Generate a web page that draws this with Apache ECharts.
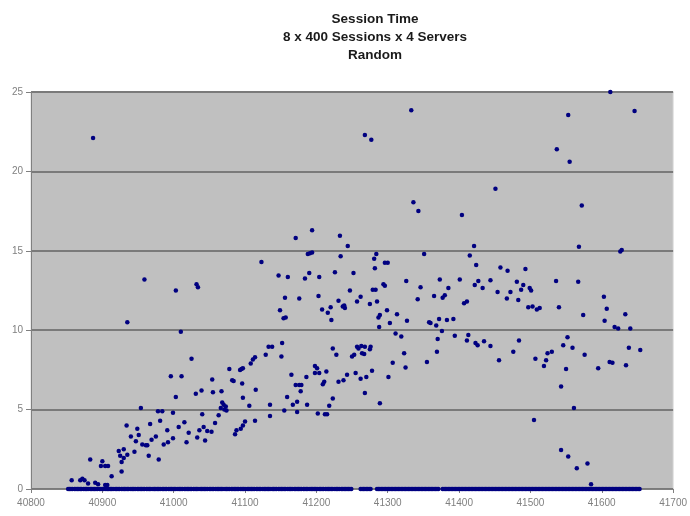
<!DOCTYPE html>
<html><head><meta charset="utf-8">
<script src="https://cdn.jsdelivr.net/npm/echarts@6/dist/echarts.min.js"></script>
<style>html,body{margin:0;padding:0;background:#fff}#c{width:690px;height:516px}</style>
</head><body><div id="c"></div>
<script>
const titleLines = ["Session Time", "8 x 400 Sessions x 4 Servers", "Random"];
const xTicks = {min: 40800, max: 41700, interval: 100};
const yTicks = {min: 0, max: 25, interval: 5};

// Sessions with non-zero time [time, session time]
const sessionPoints = [
[40887,22.1],[40959,13.2],[41003,12.5],[41032,12.9],[41034,12.7],[40935,10.5],[41010,9.9],[41025,8.2],[40996,7.1],[41011,7.1],[41054,6.9],[41003,5.8],[41031,6.0],[41039,6.2],[41055,6.1],[40954,5.1],[40978,4.9],[40984,4.9],[40999,4.8],[41040,4.7],[40981,4.3],[40967,4.1],[40934,4.0],[40949,3.8],[40940,3.3],[40951,3.4],[40991,3.7],[41007,3.9],[41015,4.2],[41021,3.55],[41036,3.7],[41042,3.9],[41047,3.65],[41053,3.6],[41033,3.25],[41044,3.05],[40969,3.1],[40975,3.3],[40986,2.8],[40992,2.95],[40999,3.2],[41018,2.95],[40947,3.0],[40956,2.8],[40961,2.75],[40963,2.75],[40945,2.35],[40965,2.1],[40979,1.85],[40930,2.5],[40935,2.15],[40923,2.4],[40925,2.1],[40930,1.95],[40927,1.7],[40883,1.85],[40898,1.45],[40900,1.75],[40904,1.45],[40908,1.45],[40913,0.8],[40927,1.1],[40857,0.55],[40869,0.55],[40872,0.65],[40875,0.55],[40880,0.35],[40890,0.4],[40894,0.3],[40904,0.25],[40907,0.25],
[41058,4.15],[41171,15.8],[41194,16.3],[41233,15.95],[41244,15.3],[41123,14.3],[41188,14.8],[41191,14.85],[41194,14.9],[41234,14.65],[41147,13.45],[41160,13.35],[41184,13.25],[41190,13.6],[41204,13.35],[41226,13.65],[41252,13.6],[41156,12.05],[41176,12.0],[41203,12.15],[41247,12.5],[41149,11.25],[41154,10.75],[41157,10.8],[41208,11.3],[41216,11.1],[41220,11.45],[41221,10.65],[41231,11.85],[41237,11.5],[41240,11.4],[41239,11.55],[41257,11.8],[41262,12.1],[41133,8.95],[41138,8.95],[41152,9.2],[41129,8.45],[41151,8.35],[41114,8.3],[41111,8.15],[41108,7.9],[41097,7.6],[41095,7.55],[41093,7.5],[41078,7.55],[41082,6.85],[41084,6.8],[41096,6.65],[41067,6.15],[41115,6.25],[41097,5.75],[41106,5.25],[41068,5.45],[41070,5.3],[41073,5.2],[41066,5.1],[41071,5.0],[41074,4.95],[41063,4.65],[41100,4.25],[41097,4.0],[41094,3.8],[41088,3.7],[41086,3.45],[41114,4.3],[41135,5.3],[41135,4.6],[41155,4.95],[41165,7.2],[41159,5.8],[41171,6.55],[41176,6.55],[41179,6.55],[41178,6.15],[41186,7.05],[41167,5.3],[41173,5.5],[41173,4.85],[41187,5.3],[41198,7.75],[41201,7.6],[41198,7.3],[41204,7.3],[41214,7.4],[41209,6.6],[41211,6.75],[41202,4.75],[41212,4.7],[41215,4.7],[41218,5.25],[41223,5.7],[41223,8.85],[41228,8.45],[41231,6.75],[41238,6.85],[41243,7.2],[41250,8.35],[41253,8.45],[41257,8.95],[41259,8.85],[41263,9.0],[41264,8.55],[41267,8.5],[41255,7.3],[41262,6.95],
[41268,22.3],[41277,22.0],[41333,23.85],[41336,18.05],[41343,17.5],[41451,18.9],[41404,17.25],[41284,14.8],[41281,14.5],[41282,13.9],[41296,14.25],[41300,14.25],[41351,14.8],[41421,15.3],[41415,14.7],[41424,14.1],[41458,13.95],[41468,13.75],[41279,12.55],[41283,12.55],[41294,12.9],[41296,12.8],[41326,13.1],[41346,12.7],[41373,13.2],[41385,12.65],[41401,13.2],[41422,12.85],[41427,13.1],[41433,12.65],[41444,13.15],[41454,12.4],[41467,12.0],[41472,12.4],[41481,13.05],[41483,11.9],[41487,12.55],[41490,12.85],[41275,11.65],[41285,11.8],[41342,11.95],[41365,12.15],[41377,12.05],[41380,12.2],[41407,11.7],[41411,11.8],[41287,10.8],[41289,10.95],[41288,10.2],[41299,11.25],[41303,10.45],[41313,11.0],[41327,10.6],[41358,10.5],[41360,10.45],[41368,10.3],[41372,10.7],[41376,9.95],[41383,10.65],[41392,10.7],[41311,9.8],[41319,9.6],[41268,8.95],[41276,8.95],[41275,8.8],[41307,7.95],[41323,8.55],[41325,7.65],[41301,7.05],[41278,7.45],[41270,7.05],[41268,6.05],[41289,5.4],[41355,8.0],[41369,8.65],[41370,9.45],[41394,9.65],[41411,9.35],[41413,9.7],[41423,9.2],[41426,9.05],[41435,9.3],[41444,9.0],[41456,8.1],[41476,8.65],[41484,9.35],
[41612,25.0],[41553,23.55],[41646,23.8],[41537,21.4],[41555,20.6],[41572,17.85],[41568,15.25],[41626,14.95],[41628,15.05],[41493,13.85],[41536,13.1],[41567,13.05],[41499,12.65],[41501,12.5],[41497,11.45],[41503,11.5],[41509,11.3],[41513,11.4],[41540,11.45],[41603,12.1],[41607,11.35],[41574,10.95],[41604,10.6],[41633,11.0],[41618,10.2],[41623,10.1],[41640,10.1],[41552,9.55],[41546,9.05],[41559,8.9],[41507,8.2],[41519,7.75],[41522,8.1],[41524,8.55],[41530,8.65],[41550,7.55],[41576,8.45],[41595,7.6],[41611,8.0],[41615,7.95],[41634,7.8],[41638,8.9],[41654,8.75],[41543,6.45],[41561,5.1],[41505,4.35],[41543,2.45],[41553,2.05],[41565,1.3],[41580,1.6],[41585,0.3]
];

// Sessions with zero time (x positions along the baseline), read in two passes
const zeroTimesA = [40852,40856,40861,40865,40869,40874,40878,40883,40887,40891,40896,40900,40905,40909,40913,40918,40922,40927,40931,40935,40940,40944,40949,40953,40957,40962,40966,40971,40975,40979,40984,40988,40993,40997,41001,41006,41010,41015,41019,41023,41028,41032,41037,41041,41045,41050,41054,41059,41063,41067,41072,41076,41081,41085,41089,41094,41098,41103,41107,41111,41116,41120,41125,41129,41133,41138,41142,41147,41151,41155,41160,41164,41169,41173,41177,41182,41186,41191,41195,41199,41204,41208,41213,41217,41221,41226,41230,41235,41239,41243,41247,41262,41266,41268,41272,41276,41285,41289,41293,41297,41301,41305,41309,41313,41317,41321,41325,41329,41333,41337,41341,41345,41349,41353,41357,41361,41365,41369,41377,41381,41385,41389,41393,41397,41401,41405,41409,41413,41417,41421,41425,41429,41433,41437,41441,41445,41449,41453,41457,41461,41465,41469,41473,41477,41481,41485,41489,41493,41497,41501,41505,41509,41513,41517,41521,41525,41529,41533,41537,41541,41545,41549,41553,41557,41561,41565,41569,41573,41577,41581,41585,41589,41593,41597,41601,41605,41609,41613,41617,41621,41625,41629,41633,41637,41641,41645,41649,41653];
const zeroTimesB = [40854,40858,40863,40867,40871,40876,40880,40885,40889,40893,40898,40902,40907,40911,40915,40920,40924,40929,40933,40937,40942,40946,40951,40955,40959,40964,40968,40973,40977,40981,40986,40990,40995,40999,41003,41008,41012,41017,41021,41025,41030,41034,41039,41043,41047,41052,41056,41061,41065,41069,41074,41078,41083,41087,41091,41096,41100,41105,41109,41113,41118,41122,41127,41131,41135,41140,41144,41149,41153,41157,41162,41166,41171,41175,41179,41184,41188,41193,41197,41201,41206,41210,41215,41219,41223,41228,41232,41237,41241,41245,41249,41264,41270,41274,41287,41291,41295,41299,41303,41307,41311,41315,41319,41323,41327,41331,41335,41339,41343,41347,41351,41355,41359,41363,41367,41371,41379,41383,41387,41391,41395,41399,41403,41407,41411,41415,41419,41423,41427,41431,41435,41439,41443,41447,41451,41455,41459,41463,41467,41471,41475,41479,41483,41487,41491,41495,41499,41503,41507,41511,41515,41519,41523,41527,41531,41535,41539,41543,41547,41551,41555,41559,41563,41567,41571,41575,41579,41583,41587,41591,41595,41599,41603,41607,41611,41615,41619,41623,41627,41631,41635,41639,41643,41647,41651];

const allData = sessionPoints
  .concat(zeroTimesA.map(x => [x, 0]))
  .concat(zeroTimesB.map(x => [x, 0]));

const chart = echarts.init(document.getElementById('c'), null, {renderer: 'canvas'});
const axisFont = {color: '#808080', fontSize: 10, fontFamily: 'Liberation Sans, Arial, sans-serif'};
chart.setOption({
  animation: false,
  backgroundColor: '#ffffff',
  title: {
    text: titleLines.join('\n'),
    left: 370, top: 5, textAlign: 'center',
    textStyle: {fontSize: 13.5, fontWeight: 'bold', color: '#1a1a1a', lineHeight: 18, fontFamily: 'Liberation Sans, Arial, sans-serif'}
  },
  grid: {left: 31, right: 16, top: 92, bottom: 27, show: true, backgroundColor: '#c0c0c0', borderColor: '#d8d8d8', borderWidth: 1},
  xAxis: {
    type: 'value', min: xTicks.min, max: xTicks.max, interval: xTicks.interval,
    axisLine: {show: true, onZero: false, lineStyle: {color: '#808080', width: 1}},
    axisTick: {show: true, length: 4, lineStyle: {color: '#808080'}},
    axisLabel: Object.assign({margin: 9, formatter: v => String(v)}, axisFont),
    splitLine: {show: false}
  },
  yAxis: {
    type: 'value', min: yTicks.min, max: yTicks.max, interval: yTicks.interval,
    axisLine: {show: true, lineStyle: {color: '#808080', width: 1}},
    axisTick: {show: true, length: 5, lineStyle: {color: '#808080', width: 1}},
    axisLabel: Object.assign({margin: 8}, axisFont),
    splitLine: {show: true, lineStyle: {color: '#7a7a7a', width: 2}}
  },
  series: [{
    type: 'scatter',
    data: allData,
    symbol: 'circle',
    symbolSize: 4.5,
    clip: false,
    itemStyle: {color: '#000080', opacity: 1}
  }]
});
</script></body></html>
